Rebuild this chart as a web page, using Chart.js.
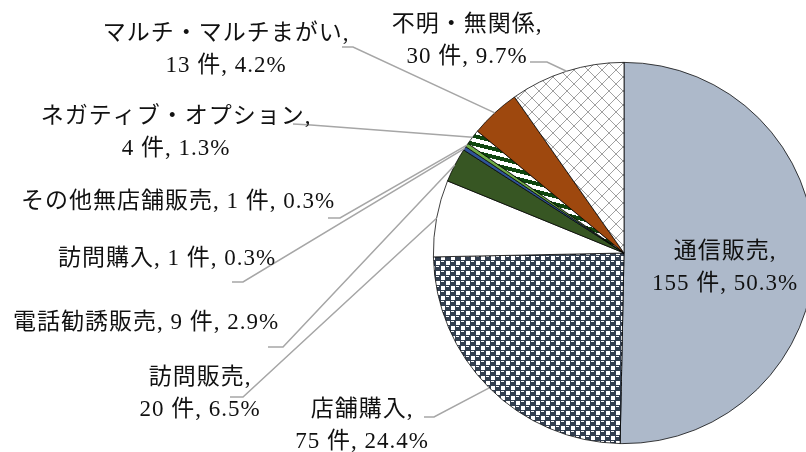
<!DOCTYPE html>
<html lang="ja">
<head>
<meta charset="utf-8">
<script src="https://cdn.jsdelivr.net/npm/chart.js"></script>
<style>
  html, body { margin: 0; padding: 0; background: #fff; overflow: hidden; }
  /* um pouco mais largo que a janela: a pizza fica cortada à direita como no original */
  #wrap { position: relative; width: 830px; height: 452px; }
</style>
</head>
<body>
<div id="wrap"><canvas id="graficoPizza"></canvas></div>
<script>
// dados
const categorias = ['通信販売', '店舗購入', '訪問販売', '電話勧誘販売', '訪問購入',
  'その他無店舗販売', 'ネガティブ・オプション', 'マルチ・マルチまがい', '不明・無関係'];
const valores = [155, 75, 20, 9, 1, 1, 4, 13, 30];
const porcentagens = ['50.3', '24.4', '6.5', '2.9', '0.3', '0.3', '1.3', '4.2', '9.7'];

// posição dos rótulos e das linhas de chamada (texto, não marcas)
const posRotulos = [
  { x: 725, y: 252, linhas: 2 },
  { x: 362, y: 410, linhas: 2, de: [424, 417], cot: [434, 417] },
  { x: 200, y: 378, linhas: 2, de: [230, 397], cot: [243, 397] },
  { x: 146, y: 323, linhas: 1, de: [268, 347], cot: [283, 347] },
  { x: 167, y: 259, linhas: 1, de: [232, 282], cot: [243, 282] },
  { x: 178, y: 202, linhas: 1, de: [328, 218], cot: [340, 218] },
  { x: 176, y: 117, linhas: 2, de: [293, 124], cot: [311, 125] },
  { x: 226, y: 34, linhas: 2, de: [342, 47], cot: [353, 47] },
  { x: 467, y: 25, linhas: 2, de: [530, 62], cot: [547, 62] }
];

const canvas = document.getElementById('graficoPizza');
const ctx = canvas.getContext('2d');

function criarPadrao(w, h, pintar) {
  const c = document.createElement('canvas');
  c.width = w;
  c.height = h;
  const g = c.getContext('2d');
  pintar(g);
  return ctx.createPattern(c, 'repeat');
}

// "esferas" azul-marinho (店舗購入)
const esferas = criarPadrao(10, 10, (g) => {
  g.fillStyle = '#333f50';
  g.fillRect(0, 0, 10, 10);
  g.fillStyle = '#fff';
  g.fillRect(6, 1, 4, 4);
  g.fillRect(1, 6, 4, 4);
  g.fillRect(1, 1, 3, 1);
  g.fillRect(6, 6, 3, 1);
});

// listras verde escuro / branco (ネガティブ・オプション)
const listras = criarPadrao(32, 8, (g) => {
  g.fillStyle = '#fff';
  g.fillRect(0, 0, 32, 8);
  g.fillStyle = '#0f460f';
  for (let y = 0; y < 8; y++) {
    for (let x = 0; x < 32; x++) {
      if ((((y - Math.floor(x / 4)) % 8) + 8) % 8 < 4) g.fillRect(x, y, 1, 1);
    }
  }
});

// losangos cinza (不明・無関係)
const losangos = criarPadrao(14, 14, (g) => {
  g.fillStyle = '#fff';
  g.fillRect(0, 0, 14, 14);
  g.fillStyle = '#a0a0a0';
  for (let i = 0; i < 14; i++) {
    g.fillRect(i, i, 1, 1);
    g.fillRect(13 - i, i, 1, 1);
  }
});

const cores = ['#adb9ca', esferas, '#ffffff', '#375623', '#2f5597',
  '#70ad47', listras, '#9e480e', losangos];

function textoRotulo(i) {
  const p = posRotulos[i];
  if (p.linhas === 2) {
    return [categorias[i] + ',', valores[i] + ' 件, ' + porcentagens[i] + '%'];
  }
  return [categorias[i] + ', ' + valores[i] + ' 件, ' + porcentagens[i] + '%'];
}

const rotulos = {
  id: 'rotulos',
  afterDatasetsDraw(chart) {
    const c = chart.ctx;
    const arcos = chart.getDatasetMeta(0).data;
    c.save();

    // linhas de chamada até o meio do arco externo de cada fatia
    c.strokeStyle = '#a6a6a6';
    c.lineWidth = 1.5;
    posRotulos.forEach((p, i) => {
      if (!p.de) return;
      const a = arcos[i].getProps(['x', 'y', 'startAngle', 'endAngle', 'outerRadius'], true);
      const meio = (a.startAngle + a.endAngle) / 2;
      const fx = a.x + Math.cos(meio) * a.outerRadius;
      const fy = a.y + Math.sin(meio) * a.outerRadius;
      c.beginPath();
      c.moveTo(p.de[0], p.de[1]);
      c.lineTo(p.cot[0], p.cot[1]);
      c.lineTo(fx, fy);
      c.stroke();
    });

    c.font = "23px 'Liberation Serif', 'Noto Sans CJK JP'";
    if ('letterSpacing' in c) c.letterSpacing = '1px';
    c.fillStyle = '#111';
    c.textAlign = 'center';
    c.textBaseline = 'middle';
    posRotulos.forEach((p, i) => {
      textoRotulo(i).forEach((t, k) => c.fillText(t, p.x, p.y + k * 32));
    });
    c.restore();
  }
};

new Chart(ctx, {
  type: 'pie',
  data: {
    labels: categorias,
    datasets: [{
      data: valores,
      backgroundColor: cores,
      borderColor: '#000',
      borderWidth: 0.75
    }]
  },
  options: {
    responsive: true,
    maintainAspectRatio: false,
    animation: false,
    layout: { padding: { left: 433, top: 62, right: 15, bottom: 8 } },
    plugins: {
      legend: { display: false },
      tooltip: { enabled: false }
    }
  },
  plugins: [rotulos]
});
</script>
</body>
</html>
